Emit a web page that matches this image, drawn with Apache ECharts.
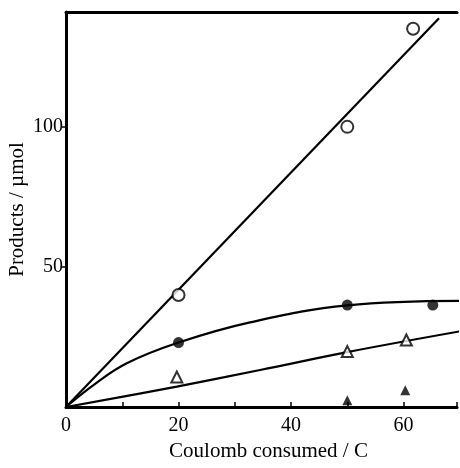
<!DOCTYPE html>
<html>
<head>
<meta charset="utf-8">
<script src="https://cdn.jsdelivr.net/npm/echarts@6/dist/echarts.min.js"></script>
<style>
  html, body { margin: 0; padding: 0; background: #fff; }
  #chart { width: 460px; height: 468px; }
</style>
</head>
<body>
<div id="chart"></div>
<script>
// Measured points (charge passed / C, amount / µmol)
const openCircles = [[20, 40], [50, 100], [61.7, 135]];
const filledCircles = [[20, 23], [50, 36.4], [65.2, 36.4]];
const openTriangles = [[19.7, 10.7], [50, 19.8], [60.5, 23.9]];
const filledTriangles = [[50, 2.4], [60.3, 6]];

// Drawn trend curves
const openCircleFit = [[0, 0], [66.3, 138.8]];
const filledCircleFit = [[0, 0], [5, 8], [10.8, 15.6], [20, 23], [32.7, 30.2], [50, 36.3], [70, 37.9]];
const openTriangleFit = [[0, 0], [19.7, 7.3], [34.5, 13.2], [50, 19.6], [70, 27]];

// Axis ticks
const xLabelTicks = [0, 20, 40, 60];
const yLabelTicks = [50, 100];

const FONT = 'Liberation Serif';

const chart = echarts.init(document.getElementById('chart'));

function fitLine(data) {
  return {
    type: 'line',
    data: data,
    smooth: 0.4,
    showSymbol: false,
    symbol: 'none',
    silent: true,
    lineStyle: { color: '#000', width: 2.2 },
    z: 2
  };
}

function markers(data, symbol, size, filled) {
  return {
    type: 'scatter',
    data: data,
    symbol: symbol,
    symbolSize: size,
    itemStyle: filled
      ? { color: '#000', borderColor: '#000', borderWidth: 0 }
      : { color: '#fff', borderColor: '#000', borderWidth: 2 },
    z: 5
  };
}

chart.setOption({
  animation: false,
  backgroundColor: '#fff',
  grid: { left: 66, right: 3, top: 12, bottom: 61, containLabel: false, outerBoundsMode: 'none' },
  xAxis: [{
    type: 'value',
    min: 0,
    max: 69.5,
    interval: 10,
    name: 'Coulomb consumed / C',
    nameLocation: 'middle',
    nameGap: 34,
    nameMoveOverlap: false,
    nameTextStyle: { fontFamily: FONT, fontSize: 21, color: '#000', padding: [0, 0, 0, 14] },
    axisLine: { show: true, onZero: false, lineStyle: { color: '#000', width: 3 } },
    axisTick: { show: true, inside: true, length: 5, lineStyle: { color: '#000', width: 1.5 } },
    axisLabel: {
      fontFamily: FONT, fontSize: 20, color: '#000', margin: 9,
      customValues: xLabelTicks
    },
    splitLine: { show: false }
  }, {
    type: 'value',
    position: 'top',
    min: 0,
    max: 69.5,
    axisLine: { show: true, onZero: false, lineStyle: { color: '#000', width: 3 } },
    axisTick: { show: false },
    axisLabel: { show: false },
    splitLine: { show: false }
  }],
  yAxis: {
    type: 'value',
    min: 0,
    max: 141,
    interval: 50,
    name: 'Products / µmol',
    nameLocation: 'middle',
    nameGap: 38,
    nameMoveOverlap: false,
    nameTextStyle: { fontFamily: FONT, fontSize: 21, color: '#000' },
    axisLine: { show: true, onZero: false, lineStyle: { color: '#000', width: 3 } },
    axisTick: { show: true, inside: false, length: 4, customValues: yLabelTicks, lineStyle: { color: '#000', width: 1.5 } },
    axisLabel: {
      fontFamily: FONT, fontSize: 20, color: '#000', margin: 3,
      customValues: yLabelTicks
    },
    splitLine: { show: false }
  },
  series: [
    fitLine(openCircleFit),
    fitLine(filledCircleFit),
    fitLine(openTriangleFit),
    markers(openCircles, 'circle', 12, false),
    markers(filledCircles, 'circle', 11, true),
    markers(openTriangles, 'triangle', 11, false),
    markers(filledTriangles, 'triangle', 10, true)
  ]
});
</script>
</body>
</html>
